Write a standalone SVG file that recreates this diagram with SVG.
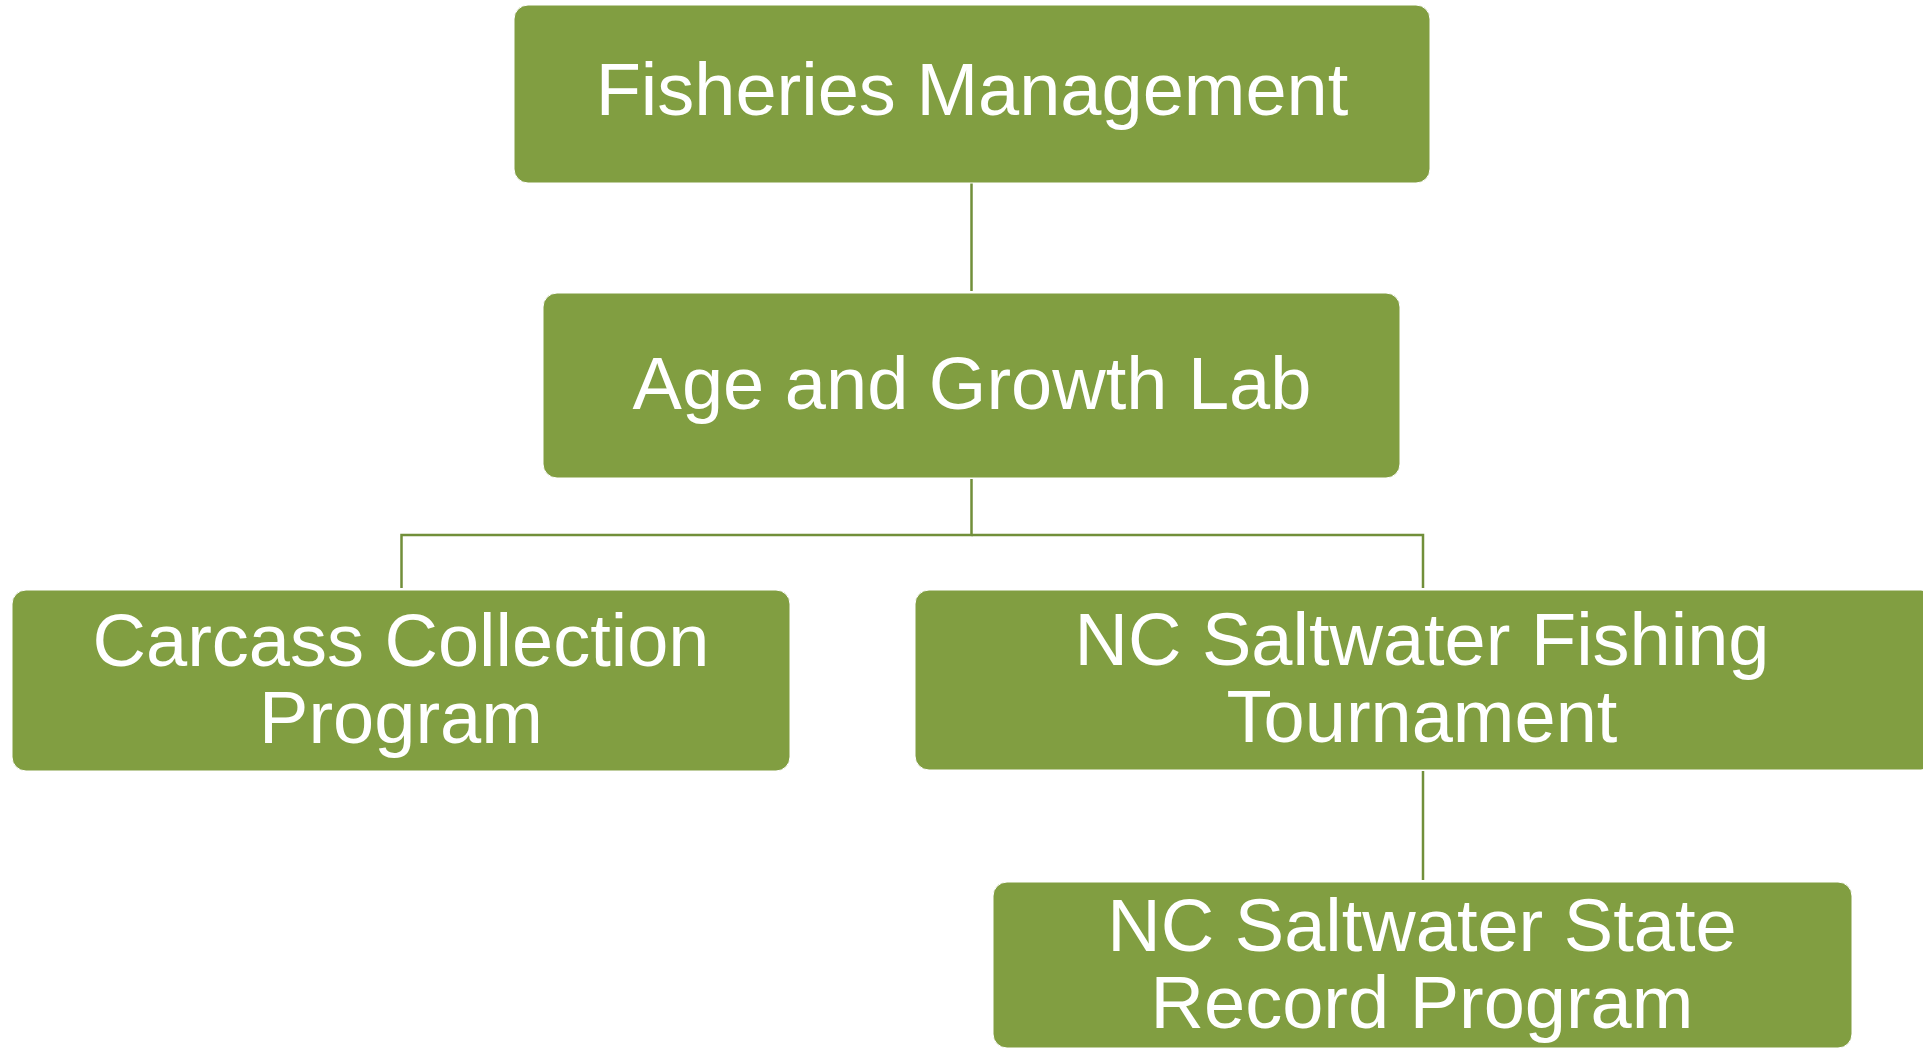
<svg xmlns="http://www.w3.org/2000/svg" width="1923" height="1049" viewBox="0 0 1923 1049">
<style>
.box{fill:#819E41;stroke:#ffffff;stroke-width:1}
.lbl{fill:#ffffff;font-family:"Liberation Sans",Arial,sans-serif;font-size:74px;text-anchor:middle}
.conn{fill:none;stroke:#718F3A;stroke-width:2.5}
</style>
<rect width="1923" height="1049" fill="#ffffff"/>
<g id="connectors">
<line class="conn" x1="971.5" y1="183" x2="971.5" y2="291"/>
<polyline class="conn" points="971.5,479 971.5,535 401.5,535 401.5,588"/>
<polyline class="conn" points="971.5,535 1423,535 1423,588"/>
<line class="conn" x1="1423" y1="771" x2="1423" y2="880"/>
</g>
<g id="fisheries-management">
<rect class="box" x="514" y="5" width="916" height="178" rx="14"/>
<text class="lbl" x="972" y="115">Fisheries Management</text>
</g>
<g id="age-growth-lab">
<rect class="box" x="543" y="293" width="857" height="185" rx="14"/>
<text class="lbl" x="972" y="409">Age and Growth Lab</text>
</g>
<g id="carcass-collection">
<rect class="box" x="12" y="590" width="778" height="181" rx="14"/>
<text class="lbl" x="401" y="666">Carcass Collection</text>
<text class="lbl" x="401" y="743">Program</text>
</g>
<g id="nc-fishing-tournament">
<rect class="box" x="915" y="590" width="1020" height="180" rx="14"/>
<text class="lbl" x="1422" y="665">NC Saltwater Fishing</text>
<text class="lbl" x="1422" y="742">Tournament</text>
</g>
<g id="nc-state-record">
<rect class="box" x="993" y="882" width="859" height="166" rx="14"/>
<text class="lbl" x="1422" y="951">NC Saltwater State</text>
<text class="lbl" x="1422" y="1028">Record Program</text>
</g>
</svg>
